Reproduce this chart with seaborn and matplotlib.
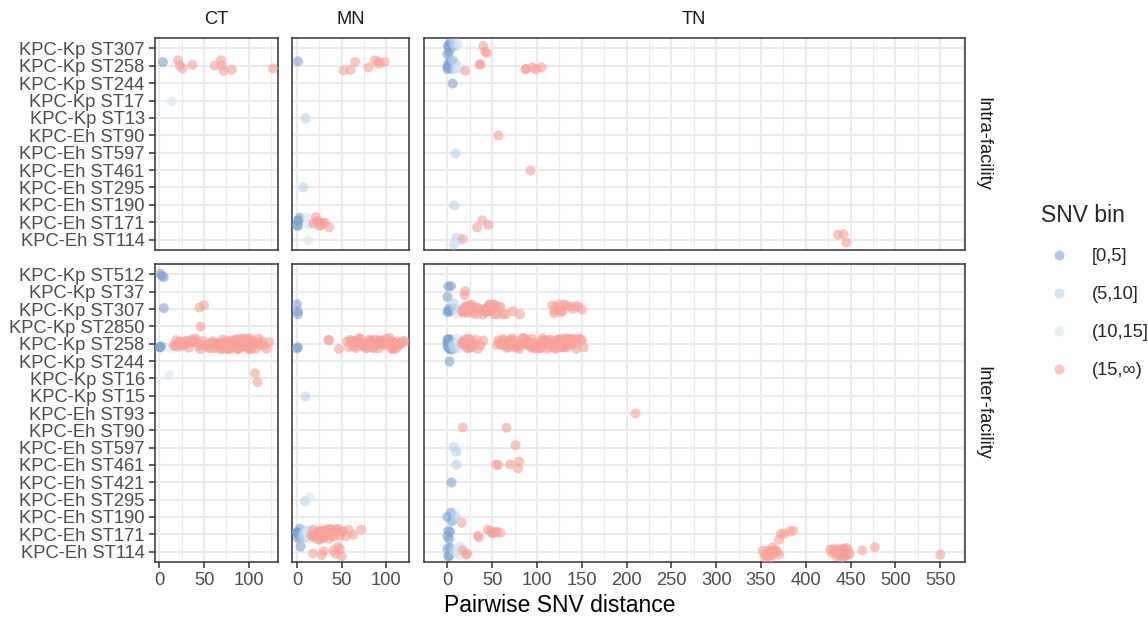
import numpy as np
import pandas as pd
import matplotlib
matplotlib.use("Agg")
import matplotlib.pyplot as plt
from matplotlib.lines import Line2D
import seaborn as sns

sns.set_theme(style="white")
plt.rcParams["font.family"] = ["Liberation Sans", "DejaVu Sans"]

# ---------------------------------------------------------------- data
panels = ["CT", "MN", "TN"]
facilities = ["Intra-facility", "Inter-facility"]

intra_strains = ["KPC-Kp ST307", "KPC-Kp ST258", "KPC-Kp ST244", "KPC-Kp ST17",
                 "KPC-Kp ST13", "KPC-Eh ST90", "KPC-Eh ST597", "KPC-Eh ST461",
                 "KPC-Eh ST295", "KPC-Eh ST190", "KPC-Eh ST171", "KPC-Eh ST114"]
inter_strains = ["KPC-Kp ST512", "KPC-Kp ST37", "KPC-Kp ST307", "KPC-Kp ST2850",
                 "KPC-Kp ST258", "KPC-Kp ST244", "KPC-Kp ST16", "KPC-Kp ST15",
                 "KPC-Eh ST93", "KPC-Eh ST90", "KPC-Eh ST597", "KPC-Eh ST461",
                 "KPC-Eh ST421", "KPC-Eh ST295", "KPC-Eh ST190", "KPC-Eh ST171",
                 "KPC-Eh ST114"]

bin_labels = ["[0,5]", "(5,10]", "(10,15]", "(15,∞)"]
bin_edges = [-np.inf, 5, 10, 15, np.inf]
bin_colors = ["#7FA2D0", "#B9D2E9", "#DAE7F3", "#F7A19A"]

# pairwise SNV distances per strain
ct_intra = {
    "KPC-Kp ST258": [4, 21, 23, 26, 37, 62, 69, 70, 72, 81, 127],
    "KPC-Kp ST17": [13],
}
mn_intra = {
    "KPC-Kp ST258": [1, 52, 60, 65, 80, 87, 91, 92, 98],
    "KPC-Kp ST13": [9],
    "KPC-Eh ST295": [7],
    "KPC-Eh ST171": [0, 1, 1, 2, 3, 11, 13, 18, 21, 22, 24, 25, 27, 29, 31, 36],
    "KPC-Eh ST114": [12],
}
tn_intra = {
    "KPC-Kp ST307": [0, 1, 1, 2, 3, 4, 7, 9, 12, 40, 42, 44],
    "KPC-Kp ST258": [0, 0, 1, 2, 2, 3, 4, 5, 6, 8, 9, 11, 14, 20, 36, 37,
                     87, 88, 95, 99, 105],
    "KPC-Kp ST244": [5],
    "KPC-Eh ST90": [56],
    "KPC-Eh ST597": [9],
    "KPC-Eh ST461": [92],
    "KPC-Eh ST190": [7],
    "KPC-Eh ST171": [33, 39, 46],
    "KPC-Eh ST114": [7, 10, 12, 13, 17, 436, 442, 445],
}
ct_inter = {
    "KPC-Kp ST512": [1, 3, 5],
    "KPC-Kp ST307": [5, 45, 50],
    "KPC-Kp ST2850": [45],
    "KPC-Kp ST258": [0, 1, 2, 13,
                     16, 18, 19, 21, 22, 22, 24, 25, 27, 28, 29, 31, 33, 34, 36,
                     37, 39, 41, 42, 44, 46, 47, 49, 51, 52, 54, 55, 57, 58, 60,
                     61, 62, 63, 65, 66, 66, 67, 68, 69, 70, 70, 71, 72, 73, 74,
                     75, 76, 77, 77, 78, 79, 80, 81, 82, 83, 84, 84, 85, 86, 87,
                     88, 89, 90, 91, 91, 92, 93, 94, 95, 96, 98, 99, 100, 101,
                     102, 103, 104, 106, 107, 108, 110, 111, 113, 115, 117, 120,
                     123],
    "KPC-Kp ST16": [11, 107, 110],
}
mn_inter = {
    "KPC-Kp ST307": [0, 1, 1],
    "KPC-Kp ST258": [0, 1, 35, 36, 47, 56,
                     58, 59, 61, 62, 63, 65, 66, 67, 68, 69, 70, 71, 72, 73, 74,
                     75, 76, 77, 78, 79, 80, 81, 82, 83, 84, 85, 86, 87, 88, 89,
                     90, 91, 92, 93, 94, 95, 96, 97, 98, 99, 100, 101, 102, 103,
                     104, 105, 106, 107, 108, 109, 110, 111, 112, 114, 115, 117,
                     119, 121],
    "KPC-Kp ST15": [9],
    "KPC-Eh ST295": [9, 14],
    "KPC-Eh ST171": [0, 0, 1, 1, 2, 3, 4, 5, 6, 7, 8, 9, 10, 11, 12, 13, 14, 15,
                     16, 17, 18, 19, 20, 21, 22, 23, 24, 25, 26, 27, 28, 29, 30,
                     31, 32, 33, 34, 35, 36, 37, 38, 40, 41, 43, 44, 46, 48, 50,
                     52, 55, 58, 63, 72],
    "KPC-Eh ST114": [4, 18, 28, 30, 41, 43, 46, 48, 50],
}
tn_inter = {
    "KPC-Kp ST37": [0, 1, 4, 19, 20],
    "KPC-Kp ST307": [0, 1, 2, 3, 4, 7, 9, 11,
                     14, 16, 17, 18, 19, 20, 21, 22, 23, 24, 25, 26, 27, 28, 29,
                     31, 33, 35, 37, 40, 41, 42, 43, 44, 45, 46, 47, 48, 49, 50,
                     51, 52, 53, 55, 57, 59, 62, 65, 73, 81,
                     117, 119, 120, 121, 123, 125, 127, 128, 130, 133, 136, 140,
                     143, 146, 150],
    "KPC-Kp ST258": [0, 0, 0, 1, 1, 1, 2, 2, 2, 3, 3, 4, 4, 5, 5,
                     6, 7, 8, 9, 10, 11, 12, 14,
                     16, 17, 18, 19, 20, 21, 22, 23, 24, 25, 26, 27, 28, 30, 32,
                     34, 37, 40,
                     55, 57, 58, 60, 61, 62, 63, 64, 65, 66, 67, 68, 69, 70, 71,
                     72, 73, 74, 75, 76, 77, 78, 79, 80, 81, 82, 83, 84, 85, 86,
                     87, 88, 89, 90, 91, 92, 93, 94, 95, 96, 97, 98, 99, 100, 101,
                     102, 103, 104, 105, 106, 107, 108, 109, 110, 111, 112, 113,
                     114, 115, 116, 117, 118, 119, 120, 121, 122, 123, 124, 125,
                     126, 127, 128, 129, 130, 131, 132, 133, 134, 135, 136, 137,
                     138, 139, 140, 142, 144, 146, 148, 150, 152],
    "KPC-Kp ST244": [2],
    "KPC-Eh ST93": [209],
    "KPC-Eh ST90": [17, 66],
    "KPC-Eh ST597": [7, 10, 76],
    "KPC-Eh ST461": [10, 54, 57, 70, 79, 80],
    "KPC-Eh ST421": [4],
    "KPC-Eh ST190": [0, 4, 5, 9, 16],
    "KPC-Eh ST171": [0, 1, 2, 3, 34, 35, 45, 48, 50, 51, 53, 55, 59,
                     370, 372, 376, 382, 386],
    "KPC-Eh ST114": [0, 1, 2, 3, 7, 9, 11, 12, 13, 14, 15, 17, 21, 22,
                     352, 354, 355, 357, 358, 359, 360, 361, 362, 363, 365, 366,
                     368, 370, 427, 429, 431, 432, 434, 435, 436, 437, 438, 439,
                     440, 441, 442, 443, 444, 445, 446, 447, 449, 463, 477, 550],
}

groups = {
    ("CT", "Intra-facility"): ct_intra, ("MN", "Intra-facility"): mn_intra,
    ("TN", "Intra-facility"): tn_intra, ("CT", "Inter-facility"): ct_inter,
    ("MN", "Inter-facility"): mn_inter, ("TN", "Inter-facility"): tn_inter,
}

records = []
for (panel, fac), table in groups.items():
    for strain, values in table.items():
        for v in values:
            records.append((panel, fac, strain, v))
df = pd.DataFrame(records, columns=["state", "facility", "strain", "distance"])
df["bin"] = pd.cut(df["distance"], bins=bin_edges, labels=bin_labels)
df["bin"] = df["bin"].astype(str)

palette = dict(zip(bin_labels, bin_colors))
point_alpha = 0.6
point_size = 7.2

# ---------------------------------------------------------------- layout
W, H = 1148, 618
fig = plt.figure(figsize=(W / 100, H / 100), dpi=100)

col_px = {"CT": (155, 278), "MN": (292, 409), "TN": (423.5, 964.5)}
row_px = {"Intra-facility": (38, 250), "Inter-facility": (264, 562)}
xlims = {"CT": (-4.8, 132.7), "MN": (-5.6, 125.4), "TN": (-26.7, 577)}
row_strains = {"Intra-facility": intra_strains, "Inter-facility": inter_strains}

grid_col = "#EBEBEB"
border_col = "#333333"
tick_col = "#4D4D4D"
strip_col = "#1A1A1A"
tick_len = 5.7 / 1.389

np.random.seed(11)

for fac in facilities:
    y0, y1 = row_px[fac]
    order = row_strains[fac]
    for panel in panels:
        x0, x1 = col_px[panel]
        ax = fig.add_axes([x0 / W, 1 - y1 / H, (x1 - x0) / W, (y1 - y0) / H])
        sub = df[(df["state"] == panel) & (df["facility"] == fac)]
        sns.stripplot(data=sub, x="distance", y="strain", hue="bin",
                      order=order, hue_order=bin_labels, palette=palette,
                      orient="h", jitter=0.33, size=point_size,
                      alpha=point_alpha, linewidth=0, legend=False, ax=ax,
                      zorder=3)
        lo, hi = xlims[panel]
        ax.set_xlim(lo, hi)
        ax.set_ylim(len(order) - 1 + 0.6, -0.6)

        majors = np.arange(0, hi, 50)
        minors = np.arange(25, hi, 50)
        ax.set_xticks(majors)
        ax.set_xticks(minors, minor=True)
        ax.set_axisbelow(True)
        ax.grid(which="major", axis="both", color=grid_col, lw=1.5, zorder=0)
        ax.grid(which="minor", axis="x", color=grid_col, lw=0.8, zorder=0)
        ax.set_xlabel("")
        ax.set_ylabel("")
        for sp in ax.spines.values():
            sp.set_visible(True)
            sp.set_color(border_col)
            sp.set_linewidth(1.1)

        ax.tick_params(axis="both", which="minor", length=0)
        ax.tick_params(axis="x", which="major",
                       length=tick_len if fac == "Inter-facility" else 0,
                       width=1.1, color=border_col, pad=3.3,
                       labelsize=13.2, labelcolor=tick_col,
                       labelbottom=(fac == "Inter-facility"), bottom=True)
        ax.tick_params(axis="y", which="major",
                       length=tick_len if panel == "CT" else 0,
                       width=1.1, color=border_col, pad=3.3,
                       labelsize=13.2, labelcolor=tick_col,
                       labelleft=(panel == "CT"), left=True)

        if fac == "Intra-facility":
            fig.text((x0 + x1) / 2 / W, 1 - 19 / H, panel, ha="center",
                     va="center", fontsize=13.2, color=strip_col)
        if panel == "TN":
            fig.text(983 / W, 1 - (y0 + y1) / 2 / H, fac, rotation=270,
                     ha="center", va="center", fontsize=13.2, color=strip_col)

fig.text(559.75 / W, 1 - 606 / H, "Pairwise SNV distance", ha="center",
         va="center", fontsize=16.5, color="black")

handles = [Line2D([], [], marker="o", linestyle="", markersize=point_size,
                  markerfacecolor=c, markeredgewidth=0, alpha=point_alpha)
           for c in bin_colors]
fig.legend(handles, bin_labels, title="SNV bin", loc="upper left",
           bbox_to_anchor=(1041 / W, 1 - 204 / H), frameon=False,
           fontsize=13.2, title_fontsize=16.5, handlelength=2.0,
           handletextpad=0.75, labelspacing=1.15, borderpad=0,
           borderaxespad=0, alignment="left")

fig.savefig("out.png", dpi=100)
